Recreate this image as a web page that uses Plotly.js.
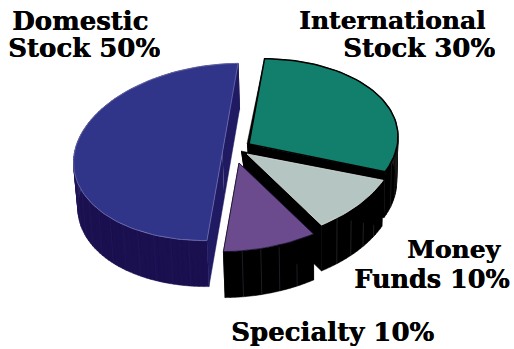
<!DOCTYPE html>
<html>
<head>
<meta charset="utf-8">
<script src="https://cdn.plot.ly/plotly-3.0.1.min.js"></script>
<style>html,body{margin:0;padding:0;background:#fff}#chart{width:514px;height:349px}</style>
</head>
<body>
<div id="chart"></div>
<script>
// Portfolio allocation, drawn clockwise as an exploded 3D pie.
const categories = ['International Stock', 'Money Funds', 'Specialty', 'Domestic Stock'];
const shares = [30, 10, 10, 50];
const labelLines = [
  ['International', 'Stock 30%'],
  ['Money', 'Funds 10%'],
  ['Specialty 10%'],
  ['Domestic', 'Stock 50%']
];

// Look of each wedge, in drawing order (back to front).
const topColors = ['#117f6c', '#b5c5c1', '#6b4a8d', '#30358a'];
const topLines = ['#000000', '#d8dedc', '#1a1030', '#6d6fae'];
const wallColors = ['#000000', '#000000', '#000000', '#1a1050'];
const faceColors = ['#000000', '#000000', '#000000', '#1f1a62'];
const facetColors = ['#1e1e1e', '#2a2a2a', '#24242e', '#211658'];
const hubs = [[249, 144], [247, 154], [239, 163], [222.5, 152]];
const faceCorners = [[247, 144], [241, 151], [239, 163], [222.5, 152]];
const radiiY = [85, 88, 88, 88];
const shears = [-0.05, -0.07, -0.07, -0.07];
const labelAnchors = [
  [[487, 20], [497, 47]],
  [[503, 249], [512, 279]],
  [[436, 332]],
  [[150, 20], [162, 47]]
];
const labelSizes = [[25, 26], [25, 25.5], [26], [26, 26]];
// Tight line boxes for the two top labels, which have no descenders.
const labelBoxHeights = [27, undefined, undefined, 27];

// Projection of the pie: horizontal radius, thickness and taper.
const radiusX = 149, depth = 46;
const vanishX = 320, taper = 0.018;
const startAngle = 6;

function rim(i, deg) {
  const t = deg * Math.PI / 180;
  const dx = radiusX * Math.sin(t);
  const dy = -radiiY[i] * Math.cos(t) + shears[i] * dx;
  return [hubs[i][0] + dx, hubs[i][1] + dy];
}
function drop(p) {
  return [p[0] + (vanishX - p[0]) * taper, p[1] + depth];
}
function arc(i, from, to) {
  const out = [];
  const n = Math.max(2, Math.ceil((to - from) / 2));
  for (let k = 0; k <= n; k++) out.push(rim(i, from + (to - from) * k / n));
  return out;
}
function poly(points, fill, line, width) {
  return {
    type: 'scatter', mode: 'lines', hoverinfo: 'skip', showlegend: false,
    x: points.map(p => p[0]), y: points.map(p => p[1]),
    fill: 'toself', fillcolor: fill,
    line: {color: line || fill, width: width === undefined ? 0.5 : width}
  };
}

const traces = [];
let angle = startAngle;
shares.forEach((share, i) => {
  const sweep = share / 100 * 360;
  const from = angle, to = angle + sweep;
  angle = to;
  const hub = hubs[i];
  const edge = arc(i, from, to);

  // outer wall, one small quad per arc step so the silhouette stays closed
  const quads = [];
  for (let k = 0; k + 1 < edge.length; k++) {
    quads.push(edge[k], edge[k + 1], drop(edge[k + 1]), drop(edge[k]), edge[k], [null, null]);
  }
  traces.push(poly(quads, wallColors[i]));

  // faint facet seams on the wall
  const sx = [], sy = [];
  for (let d = from + 7.2; d < to; d += 7.2) {
    const p = rim(i, d), q = drop(p);
    sx.push(p[0], q[0], null);
    sy.push(p[1], q[1], null);
  }
  traces.push({type: 'scatter', mode: 'lines', hoverinfo: 'skip', showlegend: false,
    x: sx, y: sy, line: {color: facetColors[i], width: 0.8}});

  // the two cut faces
  [edge[0], edge[edge.length - 1]].forEach(p => {
    traces.push(poly([faceCorners[i], p, drop(p), drop(hub)], faceColors[i]));
  });

  // top surface
  traces.push(poly([hub].concat(edge, [hub]), topColors[i], topLines[i], i === 0 ? 1.5 : 0.8));
  traces[traces.length - 1].meta = categories[i];
});

const annotations = [];
labelLines.forEach((lines, i) => {
  lines.forEach((text, j) => {
    const note = {
      x: labelAnchors[i][j][0], y: labelAnchors[i][j][1], xref: 'x', yref: 'y',
      xanchor: 'right', yanchor: 'middle', showarrow: false, text: '<b>' + text + '</b>',
      font: {family: 'DejaVu Serif', size: labelSizes[i][j], color: '#000', shadow: '0.5px 0 0 #000'}
    };
    if (labelBoxHeights[i]) note.height = labelBoxHeights[i];
    annotations.push(note);
  });
});

Plotly.newPlot('chart', traces, {
  width: 514, height: 349,
  margin: {l: 0, r: 0, t: 0, b: 0},
  paper_bgcolor: '#fff', plot_bgcolor: '#fff',
  showlegend: false,
  xaxis: {range: [0, 514], visible: false, fixedrange: true},
  yaxis: {range: [349, 0], visible: false, fixedrange: true},
  annotations
}, {displayModeBar: false, staticPlot: true});
</script>
</body>
</html>
